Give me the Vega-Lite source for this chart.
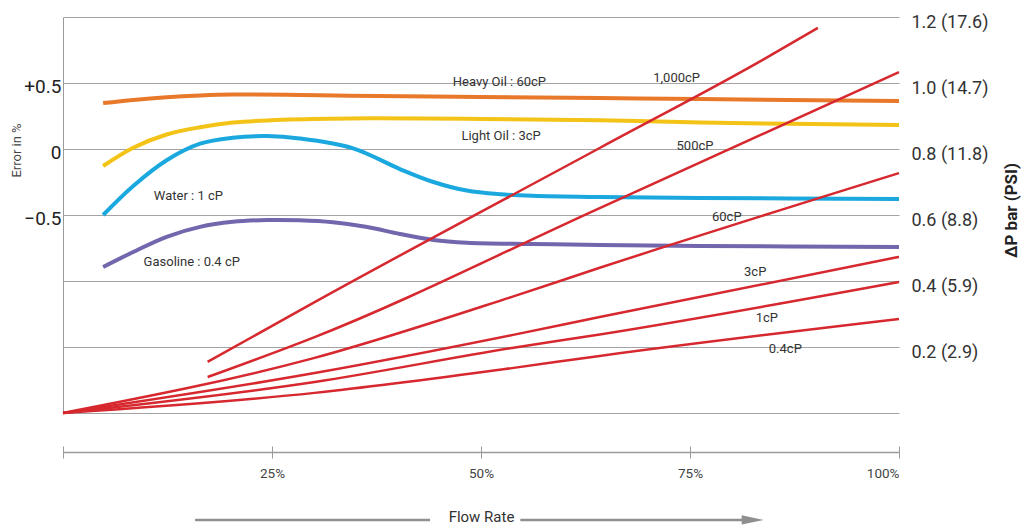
{
  "$schema": "https://vega.github.io/schema/vega-lite/v6.json",
  "width": 836,
  "height": 396,
  "autosize": {"type": "none"},
  "padding": {"left": 63, "top": 17, "right": 126, "bottom": 114},
  "background": "white",
  "config": {
    "view": {"stroke": null},
    "font": "Roboto",
    "axis": {"labelFont": "Roboto", "titleFont": "Roboto"},
    "text": {"font": "Roboto"}
  },
  "datasets": {
    "curves": [
      {"fluid": "Heavy Oil", "flow": 4.8, "err": 0.348},
      {"fluid": "Heavy Oil", "flow": 8.4, "err": 0.372},
      {"fluid": "Heavy Oil", "flow": 12.4, "err": 0.392},
      {"fluid": "Heavy Oil", "flow": 16.4, "err": 0.405},
      {"fluid": "Heavy Oil", "flow": 20.3, "err": 0.412},
      {"fluid": "Heavy Oil", "flow": 28.3, "err": 0.41},
      {"fluid": "Heavy Oil", "flow": 34.3, "err": 0.403},
      {"fluid": "Heavy Oil", "flow": 50, "err": 0.394},
      {"fluid": "Heavy Oil", "flow": 64.2, "err": 0.386},
      {"fluid": "Heavy Oil", "flow": 76.2, "err": 0.378},
      {"fluid": "Heavy Oil", "flow": 100, "err": 0.364},
      {"fluid": "Light Oil", "flow": 4.8, "err": -0.129},
      {"fluid": "Light Oil", "flow": 8.4, "err": 0.01},
      {"fluid": "Light Oil", "flow": 12.4, "err": 0.11},
      {"fluid": "Light Oil", "flow": 16.4, "err": 0.165},
      {"fluid": "Light Oil", "flow": 20.3, "err": 0.2},
      {"fluid": "Light Oil", "flow": 26.3, "err": 0.222},
      {"fluid": "Light Oil", "flow": 34.3, "err": 0.232},
      {"fluid": "Light Oil", "flow": 50, "err": 0.228},
      {"fluid": "Light Oil", "flow": 64.2, "err": 0.218},
      {"fluid": "Light Oil", "flow": 76.2, "err": 0.2},
      {"fluid": "Light Oil", "flow": 100, "err": 0.182},
      {"fluid": "Water", "flow": 4.8, "err": -0.5},
      {"fluid": "Water", "flow": 8.4, "err": -0.28},
      {"fluid": "Water", "flow": 12.4, "err": -0.085},
      {"fluid": "Water", "flow": 16.4, "err": 0.04},
      {"fluid": "Water", "flow": 20.3, "err": 0.085},
      {"fluid": "Water", "flow": 24.4, "err": 0.098},
      {"fluid": "Water", "flow": 28.3, "err": 0.08},
      {"fluid": "Water", "flow": 34.7, "err": 0.005},
      {"fluid": "Water", "flow": 40.3, "err": -0.152},
      {"fluid": "Water", "flow": 44.3, "err": -0.25},
      {"fluid": "Water", "flow": 48.3, "err": -0.315},
      {"fluid": "Water", "flow": 52.3, "err": -0.343},
      {"fluid": "Water", "flow": 56.2, "err": -0.355},
      {"fluid": "Water", "flow": 64.2, "err": -0.364},
      {"fluid": "Water", "flow": 76.2, "err": -0.371},
      {"fluid": "Water", "flow": 100, "err": -0.379},
      {"fluid": "Gasoline", "flow": 4.8, "err": -0.894},
      {"fluid": "Gasoline", "flow": 8.4, "err": -0.78},
      {"fluid": "Gasoline", "flow": 12.4, "err": -0.665},
      {"fluid": "Gasoline", "flow": 16.4, "err": -0.59},
      {"fluid": "Gasoline", "flow": 20.3, "err": -0.552},
      {"fluid": "Gasoline", "flow": 24.4, "err": -0.538},
      {"fluid": "Gasoline", "flow": 28.3, "err": -0.54},
      {"fluid": "Gasoline", "flow": 32.3, "err": -0.555},
      {"fluid": "Gasoline", "flow": 36.4, "err": -0.591},
      {"fluid": "Gasoline", "flow": 40.3, "err": -0.644},
      {"fluid": "Gasoline", "flow": 44.3, "err": -0.689},
      {"fluid": "Gasoline", "flow": 48.3, "err": -0.71},
      {"fluid": "Gasoline", "flow": 56.2, "err": -0.72},
      {"fluid": "Gasoline", "flow": 64.2, "err": -0.727},
      {"fluid": "Gasoline", "flow": 76.2, "err": -0.735},
      {"fluid": "Gasoline", "flow": 100, "err": -0.742}
    ],
    "curveLabels": [
      {"label": "Heavy Oil : 60cP", "flow": 52.2, "err": 0.508},
      {"label": "Light Oil : 3cP", "flow": 52.4, "err": 0.098},
      {"label": "Water : 1 cP", "flow": 15.0, "err": -0.356},
      {"label": "Gasoline : 0.4 cP", "flow": 15.4, "err": -0.856}
    ],
    "arrowLines": [
      {"flow": 15.8, "flow2": 43.9, "err": -2.81},
      {"flow": 54.7, "flow2": 81.5, "err": -2.81}
    ],
    "arrowHead": [
      {"flow": 82.5, "err": -2.81}
    ],
    "dp": [
      {"visc": "1,000cP", "flow": 17.3, "dp": 0.155},
      {"visc": "1,000cP", "flow": 30.1, "dp": 0.336},
      {"visc": "1,000cP", "flow": 64.2, "dp": 0.803},
      {"visc": "1,000cP", "flow": 83.7, "dp": 1.07},
      {"visc": "1,000cP", "flow": 90.3, "dp": 1.167},
      {"visc": "500cP", "flow": 17.3, "dp": 0.109},
      {"visc": "500cP", "flow": 30.1, "dp": 0.23},
      {"visc": "500cP", "flow": 64.2, "dp": 0.621},
      {"visc": "500cP", "flow": 100, "dp": 1.033},
      {"visc": "60cP", "flow": 0, "dp": 0},
      {"visc": "60cP", "flow": 30.1, "dp": 0.167},
      {"visc": "60cP", "flow": 53.7, "dp": 0.352},
      {"visc": "60cP", "flow": 64.2, "dp": 0.44},
      {"visc": "60cP", "flow": 100, "dp": 0.727},
      {"visc": "3cP", "flow": 0, "dp": 0},
      {"visc": "3cP", "flow": 30.1, "dp": 0.121},
      {"visc": "3cP", "flow": 53.7, "dp": 0.236},
      {"visc": "3cP", "flow": 64.2, "dp": 0.291},
      {"visc": "3cP", "flow": 100, "dp": 0.473},
      {"visc": "1cP", "flow": 0, "dp": 0},
      {"visc": "1cP", "flow": 30.1, "dp": 0.094},
      {"visc": "1cP", "flow": 53.7, "dp": 0.197},
      {"visc": "1cP", "flow": 64.2, "dp": 0.238},
      {"visc": "1cP", "flow": 100, "dp": 0.397},
      {"visc": "0.4cP", "flow": 0, "dp": 0},
      {"visc": "0.4cP", "flow": 30.1, "dp": 0.061},
      {"visc": "0.4cP", "flow": 53.7, "dp": 0.136},
      {"visc": "0.4cP", "flow": 64.2, "dp": 0.173},
      {"visc": "0.4cP", "flow": 100, "dp": 0.285}
    ],
    "dpLabels": [
      {"label": "1,000cP", "flow": 73.4, "dp": 1.015},
      {"label": "500cP", "flow": 75.6, "dp": 0.809},
      {"label": "60cP", "flow": 79.4, "dp": 0.594},
      {"label": "3cP", "flow": 82.8, "dp": 0.427},
      {"label": "1cP", "flow": 84.2, "dp": 0.288},
      {"label": "0.4cP", "flow": 86.4, "dp": 0.194}
    ]
  },
  "layer": [
    {
      "layer": [
        {
          "data": {"name": "curves"},
          "mark": {"type": "line", "interpolate": "catmull-rom", "strokeWidth": 4},
          "encoding": {
            "x": {
              "field": "flow", "type": "quantitative",
              "scale": {"domain": [0, 100], "nice": false, "zero": false},
              "axis": {
                "orient": "bottom", "offset": 39, "values": [0, 25, 50, 75, 100],
                "labelExpr": "datum.value == 0 ? '' : datum.value + '%'",
                "grid": false, "domainColor": "#9a9a9a", "domainWidth": 1.5,
                "tickColor": "#9a9a9a", "tickSize": 6, "tickWidth": 1,
                "labelFontSize": 13.5, "labelColor": "#444", "labelPadding": 8,
                "title": "Flow Rate", "titleFontSize": 15, "titleFontWeight": "normal",
                "titleColor": "#333", "titlePadding": 30
              }
            },
            "y": {
              "field": "err", "type": "quantitative",
              "scale": {"domain": [-2, 1], "nice": false, "zero": false},
              "axis": {
                "orient": "left", "values": [-0.5, 0, 0.5],
                "labelExpr": "datum.value > 0 ? '+' + format(datum.value, '.1f') : datum.value < 0 ? '−' + format(-datum.value, '.1f') : '0'",
                "grid": false, "ticks": false, "domain": true, "domainColor": "#9a9a9a", "domainWidth": 1,
                "labelFontSize": 19, "labelColor": "#222", "labelPadding": 2, "labelOffset": 3,
                "title": "Error in %", "titleFontSize": 13, "titleFontWeight": "normal",
                "titleColor": "#444", "titlePadding": 0, "titleY": 133
              }
            },
            "color": {
              "field": "fluid", "type": "nominal",
              "scale": {"domain": ["Heavy Oil", "Light Oil", "Water", "Gasoline"], "range": ["#e8792b", "#f3c317", "#1aa8de", "#7366ad"]},
              "legend": null
            }
          }
        },
        {
          "data": {"name": "curveLabels"},
          "mark": {"type": "text", "fontSize": 13, "color": "#333"},
          "encoding": {
            "x": {"field": "flow", "type": "quantitative"},
            "y": {"field": "err", "type": "quantitative"},
            "text": {"field": "label"}
          }
        },
        {
          "data": {"name": "arrowLines"},
          "mark": {"type": "rule", "strokeWidth": 2.5, "color": "#8f8f8f"},
          "encoding": {
            "x": {"field": "flow", "type": "quantitative"},
            "x2": {"field": "flow2"},
            "y": {"field": "err", "type": "quantitative"}
          }
        },
        {
          "data": {"name": "arrowHead"},
          "mark": {"type": "point", "shape": "M-1,-0.42L1,0L-1,0.42Z", "size": 484, "filled": true, "color": "#8f8f8f", "opacity": 1},
          "encoding": {
            "x": {"field": "flow", "type": "quantitative"},
            "y": {"field": "err", "type": "quantitative"}
          }
        }
      ]
    },
    {
      "layer": [
        {
          "data": {"name": "dp"},
          "mark": {"type": "line", "interpolate": "monotone", "strokeWidth": 2.5, "color": "#d6282e"},
          "encoding": {
            "x": {
              "field": "flow", "type": "quantitative",
              "axis": {
                "orient": "bottom", "offset": 39, "values": [0, 25, 50, 75, 100],
                "labels": false, "domain": false, "grid": false,
                "tickColor": "#9a9a9a", "tickSize": -6, "tickWidth": 1, "title": null
              }
            },
            "y": {
              "field": "dp", "type": "quantitative",
              "scale": {"domain": [0, 1.2], "nice": false, "zero": false},
              "axis": {
                "orient": "right", "values": [0, 0.2, 0.4, 0.6, 0.8, 1.0, 1.2],
                "labelExpr": "datum.value == 0 ? '' : format(datum.value, '.1f') + ' (' + format(datum.value * 14.7, '.1f') + ')'",
                "grid": true, "gridColor": "#a3a3a3", "gridWidth": 1,
                "domain": false, "ticks": false,
                "labelFontSize": 18, "labelColor": "#333", "labelPadding": 12, "labelOffset": 5,
                "title": "ΔP bar (PSI)", "titleFontSize": 17, "titleFontWeight": "bold",
                "titleColor": "#222", "titleAngle": 270, "titleBaseline": "top",
                "titlePadding": 16, "titleY": 193
              }
            },
            "detail": {"field": "visc", "type": "nominal"}
          }
        },
        {
          "data": {"name": "dpLabels"},
          "mark": {"type": "text", "fontSize": 13, "color": "#333"},
          "encoding": {
            "x": {"field": "flow", "type": "quantitative"},
            "y": {"field": "dp", "type": "quantitative"},
            "text": {"field": "label"}
          }
        }
      ]
    }
  ],
  "resolve": {"scale": {"y": "independent"}, "axis": {"x": "independent"}}
}
